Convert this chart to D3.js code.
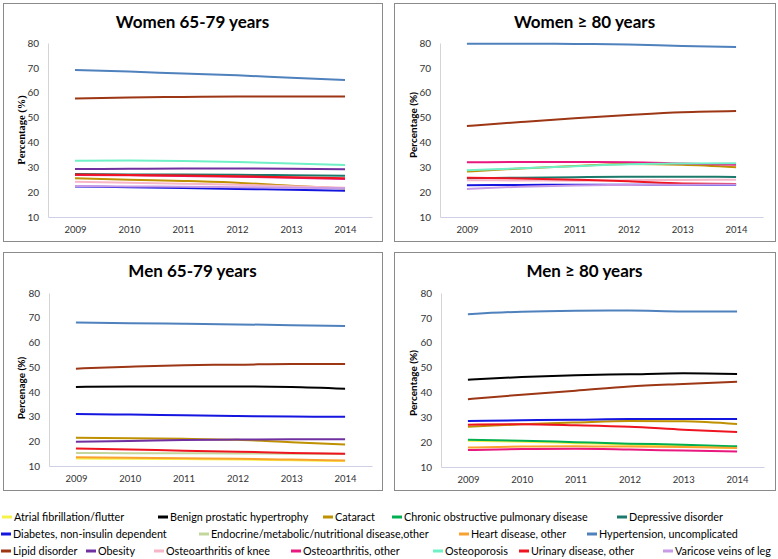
<!DOCTYPE html>
<html><head><meta charset="utf-8">
<script src="https://cdn.jsdelivr.net/npm/d3@7/dist/d3.min.js"></script>
<style>
body{margin:0;background:#fff;}
svg{display:block;font-family:Lato,"Open Sans",sans-serif;}
</style>
</head><body>
<svg id="c" width="778" height="559"></svg>
<script>
const years = ["2009","2010","2011","2012","2013","2014"];
const yTicks = [10,20,30,40,50,60,70,80];
const conditions = [
  "Atrial fibrillation/flutter","Benign prostatic hypertrophy","Cataract",
  "Chronic obstructive pulmonary disease","Depressive disorder",
  "Diabetes, non-insulin dependent","Endocrine/metabolic/nutritional disease,other",
  "Heart disease, other","Hypertension, uncomplicated","Lipid disorder","Obesity",
  "Osteoarthritis of knee","Osteoarthritis, other","Osteoporosis",
  "Urinary disease, other","Varicose veins of leg"
];
const colors = [
  "#f7f24a","#000000","#bf9000","#00b050","#1c7a6c","#1515e0","#c3d69b","#f9a12e",
  "#4f81bd","#9c3614","#7030a0","#f7b5c8","#e8187f","#6ff0c6","#ee1520","#c79be6"
];
const panelTitles = ["Women 65-79 years","Women \u2265 80 years","Men 65-79 years","Men \u2265 80 years"];
const yLabels = ["Percentage (%)","Percentage (%)","Percenage (%)","Percentage (%)"];

// series values per panel, in the order of `conditions`; null = not shown
const women6579 = [
  null, null,
  [25.6,25.0,24.5,23.8,22.6,21.5],
  null,
  [27.3,27.1,27.1,27.0,26.8,26.6],
  [22.3,22.0,21.7,21.3,21.0,20.6],
  null, null,
  [69.1,68.5,67.7,67.0,66.0,65.1],
  [57.7,58.1,58.3,58.5,58.5,58.5],
  [29.3,29.4,29.5,29.5,29.4,29.2],
  [24.2,23.8,23.4,23.0,22.4,21.8],
  [26.9,26.8,26.5,26.2,25.8,25.3],
  [32.6,32.7,32.5,32.1,31.5,30.9],
  [27.1,26.9,26.7,26.4,26.0,25.6],
  [22.5,22.3,22.2,22.0,21.8,21.6]
];
const women80 = [
  null, null,
  [28.3,29.5,30.5,31.3,31.0,30.0],
  null,
  [25.6,25.8,26.0,26.2,26.2,26.1],
  [22.8,22.9,23.0,23.0,23.0,23.0],
  null, null,
  [79.7,79.7,79.6,79.4,78.8,78.4],
  [46.6,48.2,49.7,51.0,52.1,52.6],
  null,
  [24.8,24.7,24.6,24.8,24.9,25.0],
  [32.0,32.1,32.1,32.0,31.5,31.0],
  [28.8,29.6,30.4,31.2,31.5,31.6],
  [25.8,25.5,25.0,24.4,23.5,23.3],
  [21.3,22.2,22.7,22.9,23.0,23.1]
];
const men6579 = [
  [13.0,12.9,12.8,12.6,12.3,12.0],
  [42.0,42.2,42.2,42.2,42.0,41.3],
  [21.4,21.2,21.0,20.6,19.6,18.7],
  null, null,
  [31.0,30.8,30.5,30.2,30.0,29.9],
  [15.3,15.2,15.2,15.1,15.0,14.9],
  [13.5,13.3,13.1,12.9,12.6,12.2],
  [68.1,67.8,67.6,67.3,67.0,66.6],
  [49.4,50.2,50.8,51.0,51.3,51.3],
  [19.8,20.1,20.5,20.7,20.8,20.8],
  null, null, null,
  [17.1,16.7,16.2,15.8,15.3,15.0],
  null
];
const men80 = [
  [20.6,20.2,19.6,19.0,18.4,17.6],
  [45.1,46.2,46.9,47.3,47.7,47.4],
  [26.2,27.2,27.9,28.5,28.4,27.3],
  [21.0,20.6,20.0,19.4,19.0,18.3],
  null,
  [28.5,28.8,29.0,29.3,29.3,29.3],
  null,
  [17.8,18.2,18.3,18.2,18.0,17.6],
  [71.5,72.5,72.9,73.0,72.6,72.6],
  [37.3,39.1,40.7,42.4,43.4,44.3],
  null, null,
  [16.8,17.2,17.3,17.0,16.6,16.2],
  null,
  [27.0,27.2,26.8,26.2,25.0,24.1],
  null
];
const panelData = [women6579, women80, men6579, men80];

// legend rows: condition indices
const legendRows = [[0,1,2,3,4],[5,6,7,8],[9,10,11,12,13,14,15]];

// ---------- layout ----------
const layout = [
  {box:[3,3,382,241],   x0:48,  x1:372, yTop:43,  yBot:217, ylx:21,  yly:130, serif:true},
  {box:[394,3,775,241], x0:440, x1:763, yTop:43,  yBot:217, ylx:413, yly:125},
  {box:[3,252,382,490], x0:49,  x1:372, yTop:293, yBot:466, ylx:21,  yly:388},
  {box:[394,252,775,490],x0:441,x1:764, yTop:293, yBot:467, ylx:413, yly:383}
];
const legendTextX = [[14,170,335,404,629],[13,211,471,599],[13,98,166,303,445,531,675]];
const legendY = [517,534,551];

const svg = d3.select("#c");

layout.forEach((L,pi)=>{
  const g = svg.append("g");
  const [bx0,by0,bx1,by1] = L.box;
  g.append("rect").attr("x",bx0+0.5).attr("y",by0+0.5)
    .attr("width",bx1-bx0).attr("height",by1-by0)
    .attr("fill","#fff").attr("stroke","#8a8a8a").attr("stroke-width",1);

  g.append("text").attr("x",(bx0+bx1)/2).attr("y",by0+25)
    .attr("text-anchor","middle").attr("font-weight","bold").attr("font-size",17)
    .attr("fill","#000").text(panelTitles[pi]);

  const x = d3.scalePoint().domain(years).range([L.x0,L.x1]).padding(0.5);
  const y = d3.scaleLinear().domain([10,80]).range([L.yBot,L.yTop]);

  const ya = g.append("g").attr("transform",`translate(${L.x0},0)`)
    .call(d3.axisLeft(y).tickValues(yTicks).tickSize(0).tickPadding(9).tickFormat(d3.format("d")));
  ya.select(".domain").attr("stroke","#d4d4d4");
  ya.selectAll("text").attr("font-size",10).attr("fill","#333").attr("font-family","Lato,sans-serif");

  const xa = g.append("g").attr("transform",`translate(0,${L.yBot})`)
    .call(d3.axisBottom(x).tickSize(0).tickPadding(9));
  xa.select(".domain").attr("stroke","#cfcfe8");
  xa.selectAll("text").attr("font-size",9.5).attr("fill","#333").attr("font-family","Lato,sans-serif");

  g.append("text")
    .attr("transform",`translate(${L.ylx},${L.yly}) rotate(-90)`)
    .attr("text-anchor","middle").attr("dy","0.35em")
    .attr("font-weight","bold")
    .attr("font-size", L.serif ? 10.5 : 10)
    .style("font-family", L.serif ? "'Liberation Serif','DejaVu Serif',serif" : "Lato,sans-serif")
    .attr("fill","#000").text(yLabels[pi]);

  const line = d3.line().x((d,i)=>x(years[i])).y(d=>y(d)).curve(d3.curveMonotoneX);
  const series = panelData[pi].map((v,i)=>({v,i})).filter(s=>s.v);
  g.selectAll("path.s").data(series).join("path").attr("class","s")
    .attr("d",s=>line(s.v)).attr("fill","none")
    .attr("stroke",s=>colors[s.i]).attr("stroke-width",2);
});

// legend
const lg = svg.append("g");
legendRows.forEach((row,ri)=>{
  row.forEach((ci,k)=>{
    const tx = legendTextX[ri][k];
    const cy = legendY[ri];
    lg.append("line").attr("x1",tx-12).attr("x2",tx-2).attr("y1",cy).attr("y2",cy)
      .attr("stroke",colors[ci]).attr("stroke-width",3);
    lg.append("text").attr("x",tx).attr("y",cy).attr("dy","0.35em")
      .attr("font-size",10.8).attr("fill","#000").text(conditions[ci]);
  });
});
</script>
</body></html>
